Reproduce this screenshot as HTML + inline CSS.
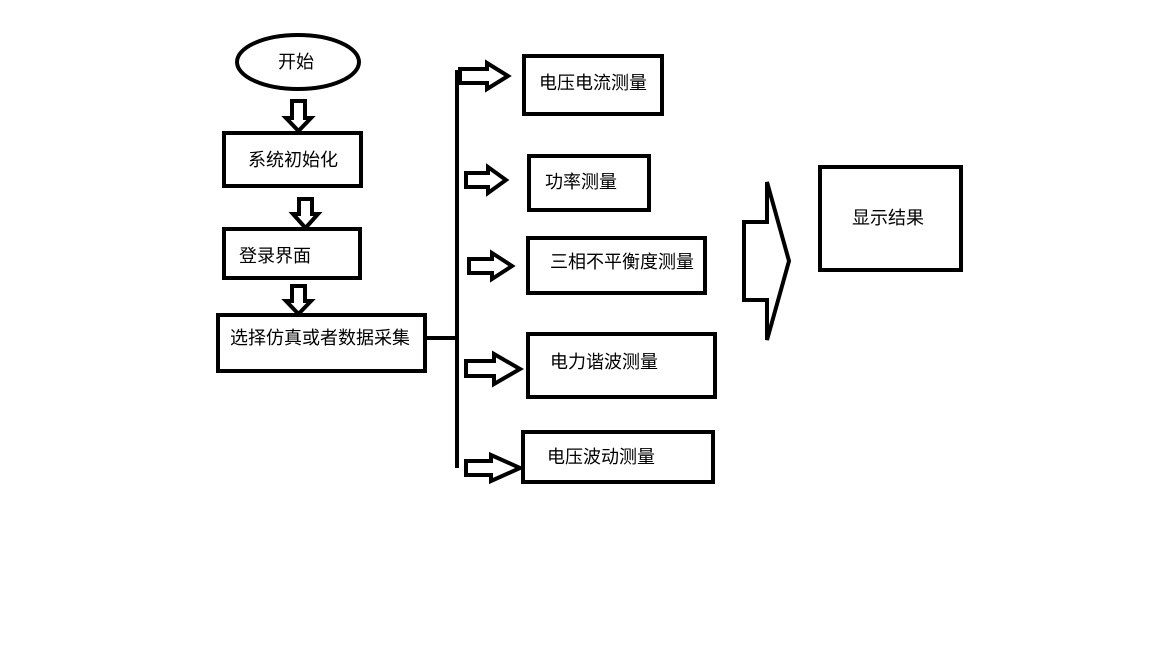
<!DOCTYPE html>
<html><head><meta charset="utf-8"><style>
body{margin:0;background:#fff}
svg text{font-family:"Liberation Sans","Noto Sans CJK SC",sans-serif;font-size:18px;fill:#000}
</style></head><body>
<svg width="1152" height="648" viewBox="0 0 1152 648" xmlns="http://www.w3.org/2000/svg">
<g fill="none" stroke="#000" stroke-width="4">
<ellipse cx="298" cy="62" rx="61" ry="27"/>
<rect x="224" y="133" width="137" height="53"/>
<rect x="224" y="229" width="136" height="49"/>
<rect x="218" y="315" width="207" height="56"/>
<rect x="524" y="56" width="138" height="58"/>
<rect x="529" y="156" width="120" height="54"/>
<rect x="528" y="238" width="177" height="55"/>
<rect x="528" y="334" width="187" height="63"/>
<rect x="523" y="432" width="190" height="50"/>
<rect x="820" y="167" width="141" height="103"/>
<path d="M426 338H457M457 70V468"/>
</g>
<g fill="none" stroke="#000" stroke-width="4" stroke-linejoin="miter">
<path d="M292 101H305V118H311L298.5 131L286 118H292Z"/>
<path d="M299 199H312V214H318L305.5 228L293 214H299Z"/>
<path d="M292 286H305V301H311L298.5 314L286 301H292Z"/>
<path d="M460 69H487V63L508 76L487 89V83H460Z"/>
<path d="M466 173H488V167L506 180L488 193V187H466Z"/>
<path d="M469 259H492V253L512 266L492 279V273H469Z"/>
<path d="M466 361H494V354L520 369L494 384V376H466Z"/>
<path d="M466 461H491V455L520 468L491 481V475H466Z"/>
<path d="M744 222H767V182L789 261L767 340V300H744Z"/>
</g>
<text x="278" y="68">开始</text>
<text x="248" y="166">系统初始化</text>
<text x="239" y="262">登录界面</text>
<text x="230" y="344">选择仿真或者数据采集</text>
<text x="539" y="89">电压电流测量</text>
<text x="545" y="188">功率测量</text>
<text x="550" y="268">三相不平衡度测量</text>
<text x="550" y="368">电力谐波测量</text>
<text x="547" y="463">电压波动测量</text>
<text x="852" y="224">显示结果</text>
</svg>
</body></html>
